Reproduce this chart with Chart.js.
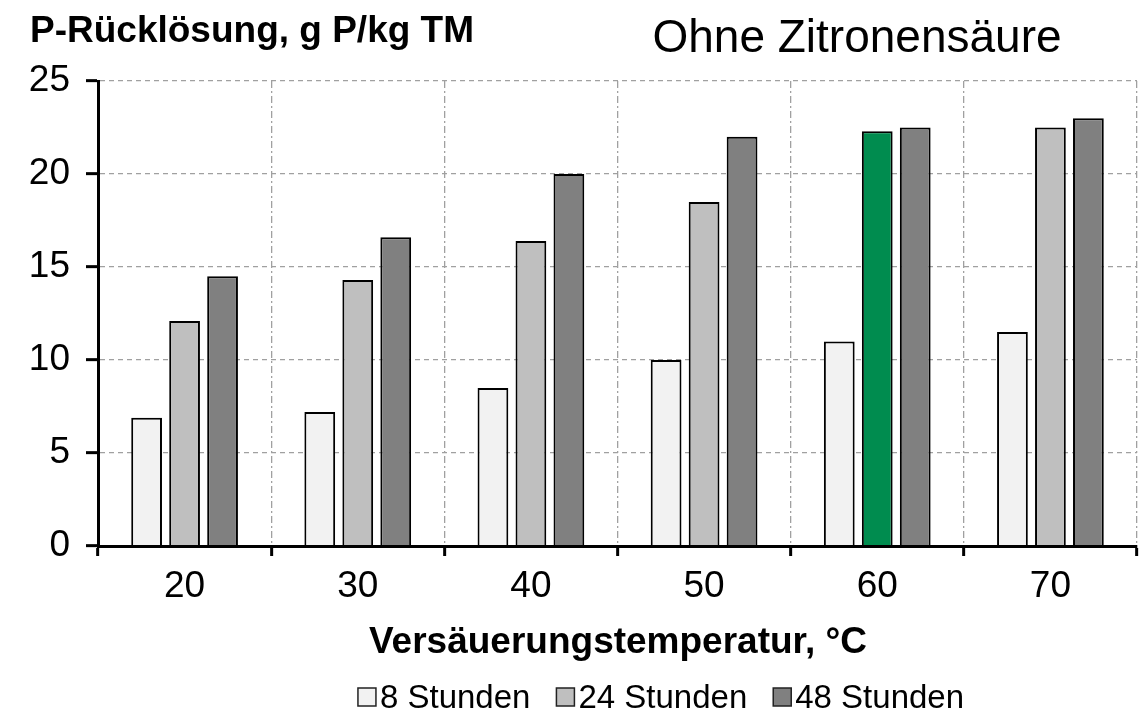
<!DOCTYPE html>
<html>
<head>
<meta charset="utf-8">
<script src="https://cdn.jsdelivr.net/npm/chart.js@4/dist/chart.umd.min.js"></script>
<style>
  html, body { margin: 0; padding: 0; background: #ffffff; }
  canvas { display: block; }
</style>
</head>
<body>
<canvas id="c" width="1140" height="719"></canvas>
<script>
// ---- data ----
const categories = ['20', '30', '40', '50', '60', '70'];
const seriesLabels = ['8 Stunden', '24 Stunden', '48 Stunden'];
const values8h  = [6.9, 7.2, 8.5, 10.0, 11.0, 11.5];
const values24h = [12.1, 14.3, 16.4, 18.5, 22.3, 22.5];
const values48h = [14.5, 16.6, 20.0, 22.0, 22.5, 23.0];
const yTickValues = [0, 5, 10, 15, 20, 25];
const yAxisTitle = 'P-Rücklösung, g P/kg TM';
const xAxisTitle = 'Versäuerungstemperatur, °C';
const chartTitle = 'Ohne Zitronensäure';
const highlightCategory = '60';

// ---- styles ----
const FONT = '"Liberation Sans", Arial, sans-serif';
const colors = ['#f2f2f2', '#bfbfbf', '#808080'];
const highlightColor = '#008c4f';
const colors24 = categories.map(c => c === highlightCategory ? highlightColor : colors[1]);

const textPlugin = {
  id: 'texts',
  afterDraw(chart) {
    const ctx = chart.ctx;
    ctx.save();
    ctx.fillStyle = '#000';
    ctx.textBaseline = 'alphabetic';
    // y-axis title
    ctx.font = 'bold 37px ' + FONT;
    ctx.textAlign = 'left';
    ctx.fillText(yAxisTitle, 30, 42);
    // chart title
    ctx.font = '46px ' + FONT;
    ctx.textAlign = 'center';
    ctx.fillText(chartTitle, 857, 52);
    // x-axis title
    ctx.font = 'bold 37px ' + FONT;
    ctx.textAlign = 'center';
    ctx.fillText(xAxisTitle, 618, 653);
    // legend
    ctx.font = '33px ' + FONT;
    const box = 18, gapBT = 4, gapItems = 26;
    const items = chart.data.datasets.map((ds, i) => ({
      label: ds.label,
      color: Array.isArray(ds.backgroundColor) ? colors[i] : ds.backgroundColor,
      w: box + gapBT + ctx.measureText(ds.label).width
    }));
    const total = items.reduce((s, it) => s + it.w, 0) + gapItems * (items.length - 1);
    let x = 661 - total / 2;
    const cy = 697;
    ctx.textAlign = 'left';
    ctx.textBaseline = 'middle';
    items.forEach(it => {
      ctx.fillStyle = it.color;
      ctx.fillRect(x, cy - box / 2, box, box);
      ctx.strokeStyle = '#222';
      ctx.lineWidth = 1.5;
      ctx.strokeRect(x, cy - box / 2, box, box);
      ctx.fillStyle = '#000';
      ctx.fillText(it.label, x + box + gapBT, cy + 2);
      x += it.w + gapItems;
    });
    ctx.restore();
  }
};

new Chart(document.getElementById('c'), {
  type: 'bar',
  data: {
    labels: categories,
    datasets: [
      { label: seriesLabels[0], data: values8h,  backgroundColor: colors[0], borderColor: '#000', borderWidth: 2 },
      { label: seriesLabels[1], data: values24h, backgroundColor: colors24,  borderColor: '#000', borderWidth: 2 },
      { label: seriesLabels[2], data: values48h, backgroundColor: colors[2], borderColor: '#000', borderWidth: 2 }
    ]
  },
  options: {
    responsive: false,
    devicePixelRatio: 1,
    animation: false,
    layout: { padding: { top: 81, right: 3, left: 0, bottom: 0 } },
    datasets: { bar: { categoryPercentage: 0.658, barPercentage: 0.81 } },
    plugins: { legend: { display: false }, title: { display: false }, tooltip: { enabled: false } },
    scales: {
      x: {
        grid: { color: '#a0a0a0', lineWidth: 1.3, tickLength: 10, tickWidth: 3, tickColor: '#000', tickBorderDash: [] },
        border: { color: '#000', width: 3, dash: [7, 3, 2, 3], z: 1 },
        ticks: { color: '#000', font: { family: FONT, size: 37 }, padding: 9 },
        afterFit(scale) { scale.height = 719 - 546; }
      },
      y: {
        min: 0, max: 25,
        afterBuildTicks(scale) { scale.ticks = yTickValues.map(v => ({ value: v })); },
        grid: { color: '#a0a0a0', lineWidth: 1.3, tickLength: 12, tickWidth: 3, tickColor: '#000', tickBorderDash: [] },
        border: { color: '#000', width: 3, dash: [5, 4], z: 1 },
        ticks: { color: '#000', font: { family: FONT, size: 37 }, padding: 16 },
        afterFit(scale) { scale.width = 98; }
      }
    }
  },
  plugins: [textPlugin]
});
</script>
</body>
</html>
